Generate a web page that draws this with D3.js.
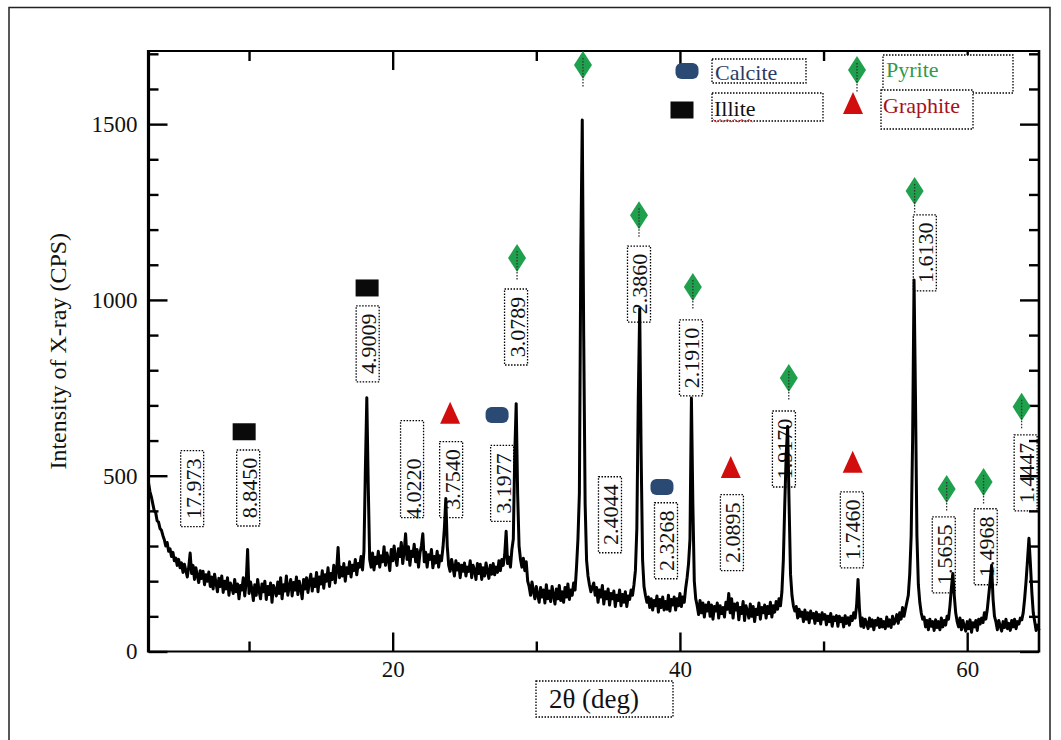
<!DOCTYPE html>
<html><head><meta charset="utf-8">
<script src="https://cdn.jsdelivr.net/npm/d3@7"></script>
<style>
body{margin:0;background:#fff}
svg{display:block}
text{font-family:"Liberation Serif","Times New Roman",serif}
</style>
</head><body>
<svg id="c" width="1061" height="740"></svg>
<script>
// XRD pattern: [2θ (deg), intensity (CPS)]
const pattern = [
[3.0,480],[3.1,455],[3.2,440],[3.3,420],[3.4,400],[3.5,395],[3.6,372],[3.7,368],[3.8,350],[3.9,345],
[4.0,330],[4.1,318],[4.2,300],[4.3,310],[4.4,285],[4.5,292],[4.6,270],[4.7,282],[4.8,258],[4.9,266],
[5.0,245],[5.1,262],[5.2,238],[5.3,252],[5.4,225],[5.5,248],[5.6,230],[5.7,212],[5.8,240],[5.9,280],
[6.0,222],[6.1,245],[6.2,205],[6.3,238],[6.4,215],[6.5,196],[6.6,230],[6.7,208],[6.8,228],[6.9,190],
[7.0,218],[7.1,200],[7.2,226],[7.3,185],[7.4,212],[7.5,178],[7.6,220],[7.7,195],[7.8,170],[7.9,208],
[8.0,185],[8.1,215],[8.2,168],[8.3,200],[8.4,178],[8.5,210],[8.6,160],[8.7,195],[8.8,182],[8.9,165],
[9.0,205],[9.1,170],[9.2,192],[9.3,150],[9.4,188],[9.5,175],[9.6,210],[9.7,158],[9.8,196],[9.9,290],
[10.0,165],[10.1,198],[10.2,178],[10.3,145],[10.4,190],[10.5,160],[10.6,205],[10.7,172],[10.8,150],[10.9,192],
[11.0,170],[11.1,200],[11.2,148],[11.3,185],[11.4,162],[11.5,195],[11.6,140],[11.7,188],[11.8,175],[11.9,158],
[12.0,198],[12.1,165],[12.2,210],[12.3,150],[12.4,190],[12.5,172],[12.6,215],[12.7,160],[12.8,185],[12.9,205],
[13.0,158],[13.1,196],[13.2,175],[13.3,212],[13.4,162],[13.5,200],[13.6,180],[13.7,150],[13.8,205],[13.9,178],
[14.0,210],[14.1,168],[14.2,198],[14.3,220],[14.4,172],[14.5,206],[14.6,185],[14.7,225],[14.8,170],[14.9,212],
[15.0,192],[15.1,230],[15.2,180],[15.3,218],[15.4,200],[15.5,238],[15.6,185],[15.7,222],[15.8,205],[15.9,245],
[16.0,195],[16.1,232],[16.2,296],[16.3,210],[16.4,240],[16.5,215],[16.6,250],[16.7,200],[16.8,238],[16.9,222],
[17.0,255],[17.1,212],[17.2,245],[17.3,230],[17.4,262],[17.5,218],[17.6,250],[17.7,240],[17.8,270],[17.9,232],
[18.0,285],[18.1,520],[18.2,722],[18.3,470],[18.4,262],[18.5,240],[18.6,280],[18.7,232],[18.8,268],[18.9,250],
[19.0,285],[19.1,240],[19.2,272],[19.3,255],[19.4,298],[19.5,245],[19.6,280],[19.7,262],[19.8,230],[19.9,290],
[20.0,258],[20.1,300],[20.2,265],[20.3,245],[20.4,292],[20.5,270],[20.6,310],[20.7,250],[20.8,285],[20.9,335],
[21.0,262],[21.1,298],[21.2,245],[21.3,285],[21.4,270],[21.5,305],[21.6,255],[21.7,290],[21.8,240],[21.9,280],
[22.0,300],[22.1,335],[22.2,255],[22.3,282],[22.4,240],[22.5,275],[22.6,262],[22.7,290],[22.8,238],[22.9,270],
[23.0,252],[23.1,285],[23.2,240],[23.3,272],[23.4,258],[23.5,295],[23.6,350],[23.7,435],[23.8,300],[23.9,245],
[24.0,228],[24.1,262],[24.2,240],[24.3,215],[24.4,258],[24.5,232],[24.6,250],[24.7,210],[24.8,245],[24.9,228],
[25.0,252],[25.1,215],[25.2,240],[25.3,228],[25.4,258],[25.5,210],[25.6,245],[25.7,232],[25.8,205],[25.9,250],
[26.0,222],[26.1,248],[26.2,205],[26.3,238],[26.4,215],[26.5,252],[26.6,228],[26.7,208],[26.8,245],[26.9,220],
[27.0,250],[27.1,218],[27.2,240],[27.3,225],[27.4,258],[27.5,230],[27.6,262],[27.7,245],[27.8,275],[27.9,342],
[28.0,250],[28.1,268],[28.2,240],[28.3,290],[28.4,320],[28.5,560],[28.6,705],[28.7,450],[28.8,300],[28.9,262],
[29.0,240],[29.1,265],[29.2,230],[29.3,255],[29.4,200],[29.5,185],[29.6,160],[29.7,198],[29.8,172],[29.9,150],
[30.0,185],[30.1,160],[30.2,140],[30.3,182],[30.4,155],[30.5,175],[30.6,138],[30.7,190],[30.8,150],[30.9,172],
[31.0,142],[31.1,185],[31.2,160],[31.3,135],[31.4,178],[31.5,150],[31.6,188],[31.7,145],[31.8,170],[31.9,140],
[32.0,182],[32.1,155],[32.2,192],[32.3,148],[32.4,175],[32.5,160],[32.6,195],[32.7,175],[32.8,240],[32.9,320],
[33.0,450],[33.1,1140],[33.2,1512],[33.3,900],[33.4,420],[33.5,260],[33.6,215],[33.7,190],[33.8,170],[33.9,182],
[34.0,195],[34.1,160],[34.2,182],[34.3,140],[34.4,175],[34.5,155],[34.6,188],[34.7,135],[34.8,170],[34.9,150],
[35.0,178],[35.1,132],[35.2,165],[35.3,150],[35.4,172],[35.5,128],[35.6,160],[35.7,145],[35.8,175],[35.9,130],
[36.0,162],[36.1,140],[36.2,170],[36.3,128],[36.4,158],[36.5,148],[36.6,175],[36.7,160],[36.8,190],[36.9,230],
[37.0,350],[37.1,720],[37.2,975],[37.3,560],[37.4,260],[37.5,185],[37.6,160],[37.7,140],[37.8,155],[37.9,125],
[38.0,150],[38.1,118],[38.2,145],[38.3,130],[38.4,158],[38.5,112],[38.6,148],[38.7,125],[38.8,155],[38.9,118],
[39.0,142],[39.1,120],[39.2,160],[39.3,115],[39.4,148],[39.5,132],[39.6,155],[39.7,118],[39.8,150],[39.9,130],
[40.0,165],[40.1,128],[40.2,155],[40.3,140],[40.4,180],[40.5,210],[40.6,250],[40.7,320],[40.8,721],[40.9,420],
[41.0,200],[41.1,150],[41.2,130],[41.3,105],[41.4,145],[41.5,110],[41.6,138],[41.7,98],[41.8,132],[41.9,115],
[42.0,140],[42.1,100],[42.2,132],[42.3,92],[42.4,128],[42.5,115],[42.6,138],[42.7,95],[42.8,130],[42.9,108],
[43.0,125],[43.1,98],[43.2,140],[43.3,120],[43.4,165],[43.5,110],[43.6,150],[43.7,95],[43.8,135],[43.9,118],
[44.0,138],[44.1,90],[44.2,125],[44.3,108],[44.4,142],[44.5,88],[44.6,130],[44.7,115],[44.8,95],[44.9,135],
[45.0,100],[45.1,128],[45.2,85],[45.3,120],[45.4,105],[45.5,138],[45.6,92],[45.7,125],[45.8,110],[45.9,132],
[46.0,95],[46.1,128],[46.2,108],[46.3,140],[46.4,98],[46.5,130],[46.6,112],[46.7,142],[46.8,120],[46.9,150],
[47.0,130],[47.1,170],[47.2,260],[47.3,420],[47.4,560],[47.5,640],[47.6,420],[47.7,220],[47.8,160],[47.9,130],
[48.0,115],[48.1,128],[48.2,95],[48.3,120],[48.4,100],[48.5,112],[48.6,85],[48.7,118],[48.8,92],[48.9,110],
[49.0,82],[49.1,115],[49.2,95],[49.3,108],[49.4,80],[49.5,112],[49.6,88],[49.7,105],[49.8,78],[49.9,110],
[50.0,92],[50.1,105],[50.2,76],[50.3,100],[50.4,85],[50.5,108],[50.6,72],[50.7,98],[50.8,88],[50.9,102],
[51.0,72],[51.1,100],[51.2,85],[51.3,95],[51.4,70],[51.5,102],[51.6,80],[51.7,96],[51.8,75],[51.9,100],
[52.0,88],[52.1,110],[52.2,95],[52.3,130],[52.4,205],[52.5,120],[52.6,72],[52.7,95],[52.8,68],[52.9,92],
[53.0,80],[53.1,65],[53.2,95],[53.3,72],[53.4,90],[53.5,62],[53.6,88],[53.7,75],[53.8,95],[53.9,68],
[54.0,92],[54.1,70],[54.2,85],[54.3,65],[54.4,98],[54.5,72],[54.6,90],[54.7,68],[54.8,100],[54.9,78],
[55.0,88],[55.1,105],[55.2,80],[55.3,110],[55.4,92],[55.5,125],[55.6,100],[55.7,120],[55.8,140],[55.9,160],
[56.0,220],[56.1,330],[56.2,600],[56.3,1057],[56.4,720],[56.5,330],[56.6,190],[56.7,140],[56.8,110],[56.9,92],
[57.0,98],[57.1,70],[57.2,88],[57.3,62],[57.4,92],[57.5,72],[57.6,85],[57.7,60],[57.8,90],[57.9,68],
[58.0,85],[58.1,62],[58.2,95],[58.3,70],[58.4,88],[58.5,75],[58.6,100],[58.7,92],[58.8,130],[58.9,180],
[59.0,222],[59.1,160],[59.2,110],[59.3,85],[59.4,70],[59.5,95],[59.6,62],[59.7,88],[59.8,72],[59.9,58],
[60.0,85],[60.1,65],[60.2,90],[60.3,55],[60.4,82],[60.5,70],[60.6,88],[60.7,60],[60.8,92],[60.9,78],
[61.0,95],[61.1,82],[61.2,110],[61.3,92],[61.4,120],[61.5,160],[61.6,200],[61.7,245],[61.8,150],[61.9,100],
[62.0,85],[62.1,62],[62.2,88],[62.3,72],[62.4,58],[62.5,85],[62.6,68],[62.7,92],[62.8,65],[62.9,80],
[63.0,60],[63.1,88],[63.2,70],[63.3,92],[63.4,65],[63.5,85],[63.6,78],[63.7,95],[63.8,90],[63.9,110],
[64.0,150],[64.1,200],[64.2,260],[64.3,322],[64.4,250],[64.5,170],[64.6,110],[64.7,85],[64.8,60],[64.9,75],
[65.0,60]
];

// phase markers [2θ, CPS]
const illiteMarks   = [[9.66,625],[18.22,1034]];
const calciteMarks  = [[27.27,673],[38.75,468]];
const pyriteMarks   = [[28.66,1119],[33.25,1668],[37.15,1241],[40.9,1037],[47.58,778],[56.34,1310],[58.57,462],[61.14,482],[63.79,696]];
const graphiteMarks = [[24.0,676],[43.54,522],[52.03,537]];

// d-spacing annotations
const dText  = ["17.973","8.8450","4.9009","4.0220","3.7540","3.1977","3.0789","2.4044","2.3860","2.3268","2.1910","2.0895","1.9170","1.7460","1.6130","1.5655","1.4968","1.4447"];
const dAngle = [6.04,9.94,18.26,21.35,24.07,27.62,28.59,35.13,37.15,39.03,40.77,43.62,47.24,51.97,57.05,58.37,61.29,64.07];
const dLevel = [463,465,875,463,489,478,923,389,1045,315,835,338,576,346,1134,275,298,508];

const xTicksMajor = [20,40,60];
const xTicksMinor = [10,30,50];
const yTicksMajor = [0,500,1000,1500];
const yTicksMinor = [100,200,300,400,600,700,800,900,1100,1200,1300,1400,1600,1700];

const legendNames = ["Calcite","Illite","Pyrite","Graphite"];

const svg = d3.select("#c");
const L=148.5, R=1039, T=51, B=651.5;
const x = d3.scaleLinear().domain([3,65]).range([L,R]);
const y = d3.scaleLinear().domain([0,1708]).range([B,T]);

// outer frame
svg.append("path").attr("d","M9,745 V7.5 H1050 V745").attr("fill","none").attr("stroke","#222").attr("stroke-width",1.5);

// axes
function ax(gen, transform, vals, size, fmt){
  const g = svg.append("g").attr("transform",transform)
    .call(gen.tickValues(vals).tickSizeInner(size).tickSizeOuter(0).tickFormat(fmt||""));
  g.select(".domain").remove();
  g.selectAll(".tick line").attr("stroke","#000").attr("stroke-width",2.4);
  g.selectAll(".tick text").attr("font-size",23).attr("fill","#111")
    .style("font-family","'Liberation Serif',serif");
  return g;
}
const fmt = d3.format("d");
const gb = ax(d3.axisBottom(x), `translate(0,${B})`, xTicksMajor, -19, fmt);
gb.selectAll(".tick text").attr("dy",0).attr("y",25);
ax(d3.axisBottom(x), `translate(0,${B})`, xTicksMinor, -10);
ax(d3.axisTop(x), `translate(0,${T})`, xTicksMajor, -19);
ax(d3.axisTop(x), `translate(0,${T})`, xTicksMinor, -10);
const gl = ax(d3.axisLeft(y), `translate(${L},0)`, yTicksMajor, -19, fmt);
gl.selectAll(".tick text").attr("x",-11);
ax(d3.axisLeft(y), `translate(${L},0)`, yTicksMinor, -10);
ax(d3.axisRight(y), `translate(${R},0)`, yTicksMajor, -19);
ax(d3.axisRight(y), `translate(${R},0)`, yTicksMinor, -10);

// spines
svg.append("line").attr("x1",L).attr("x2",R).attr("y1",B).attr("y2",B).attr("stroke","#000").attr("stroke-width",2.2);
svg.append("line").attr("x1",L).attr("x2",R).attr("y1",T).attr("y2",T).attr("stroke","#000").attr("stroke-width",2.2);
svg.append("line").attr("x1",L).attr("x2",L).attr("y1",T-1).attr("y2",B+1).attr("stroke","#000").attr("stroke-width",3.2);
svg.append("line").attr("x1",R).attr("x2",R).attr("y1",T-1).attr("y2",B+1).attr("stroke","#000").attr("stroke-width",2.6);

// axis titles
svg.append("text").attr("transform",`translate(66,${(T+B)/2}) rotate(-90)`)
  .attr("text-anchor","middle").attr("font-size",24).attr("fill","#111").text("Intensity of X-ray (CPS)");
svg.append("rect").attr("x",536).attr("y",681).attr("width",137).attr("height",36)
  .attr("fill","none").attr("stroke","#000").attr("stroke-width",1.3).attr("stroke-dasharray","1.5,1.5");
svg.append("text").attr("x",594).attr("y",708).attr("text-anchor","middle").attr("font-size",27).attr("fill","#111").text("2θ (deg)");

// d-spacing boxes
const dots = "1.5,1.5";
dText.forEach((t,i)=>{
  const cx = x(dAngle[i]), cy = y(dLevel[i]);
  let h = 76, top = cy-38;
  if(t==="4.0220"){ top = cy-68; h = 97; }
  svg.append("rect").attr("x",cx-11.5).attr("y",top).attr("width",23).attr("height",h)
    .attr("fill","none").attr("stroke","#000").attr("stroke-width",1.3).attr("stroke-dasharray",dots);
  svg.append("text").attr("transform",`translate(${cx+1},${cy}) rotate(-90)`)
    .attr("text-anchor","middle").attr("dominant-baseline","central")
    .attr("font-size",22).attr("fill","#111").text(t);
});

// pattern
svg.append("path").datum(pattern)
  .attr("d", d3.line().x(d=>x(d[0])).y(d=>y(d[1])))
  .attr("fill","none").attr("stroke","#000").attr("stroke-width",3).attr("stroke-linejoin","round");

// marker shapes
const colPyr="#1ea04c", colCal="#2b4a73", colGra="#d10d0d", colIll="#0a0a0a";
function diamond(g,cx,cy){
  g.append("path").attr("d",`M${cx},${cy-14} L${cx+9},${cy} L${cx},${cy+14} L${cx-9},${cy} Z`).attr("fill",colPyr);
  g.append("line").attr("x1",cx).attr("x2",cx).attr("y1",cy-7).attr("y2",cy+22)
    .attr("stroke","#333").attr("stroke-width",1.3).attr("stroke-dasharray",dots);
}
function square(g,cx,cy){ g.append("rect").attr("x",cx-11.5).attr("y",cy-8.5).attr("width",23).attr("height",17).attr("fill",colIll); }
function pill(g,cx,cy){ g.append("rect").attr("x",cx-11.5).attr("y",cy-8).attr("width",23).attr("height",16).attr("rx",6).attr("fill",colCal); }
function tri(g,cx,cy){ g.append("path").attr("d",`M${cx},${cy-12} L${cx+10},${cy+10} L${cx-10},${cy+10} Z`).attr("fill",colGra); }

const gm = svg.append("g");
illiteMarks.forEach(d=>square(gm,x(d[0]),y(d[1])));
calciteMarks.forEach(d=>pill(gm,x(d[0]),y(d[1])));
pyriteMarks.forEach(d=>diamond(gm,x(d[0]),y(d[1])));
graphiteMarks.forEach(d=>tri(gm,x(d[0]),y(d[1])));

// legend
const lg = svg.append("g");
function lbox(x0,y0,w,h){ lg.append("rect").attr("x",x0).attr("y",y0).attr("width",w).attr("height",h)
  .attr("fill","#fff").attr("stroke","#000").attr("stroke-width",1.3).attr("stroke-dasharray",dots); }
pill(lg,687,71);
lbox(712,59,94,24);
lg.append("text").attr("x",715).attr("y",80).attr("font-size",22).attr("fill","#2b3a62").text(legendNames[0]);
square(lg,682,110);
lbox(712,93,111,28);
lg.append("text").attr("x",714).attr("y",116).attr("font-size",22).attr("fill","#111").text(legendNames[1]);
lg.append("path").attr("d",d3.range(0,12).map(i=>`${i?"L":"M"}${713+i*3.6},${i%2?122:119.5}`).join(" "))
  .attr("fill","none").attr("stroke","#d03030").attr("stroke-width",1);
lbox(883,55,130,38);
diamond(lg,857,70);
lg.append("text").attr("x",886).attr("y",77).attr("font-size",22).attr("fill","#2f9a4a").text(legendNames[2]);
lbox(881,90,92,39);
tri(lg,853,104);
lg.append("text").attr("x",883).attr("y",113).attr("font-size",22).attr("fill","#a5121b").text(legendNames[3]);
</script>
</body></html>
